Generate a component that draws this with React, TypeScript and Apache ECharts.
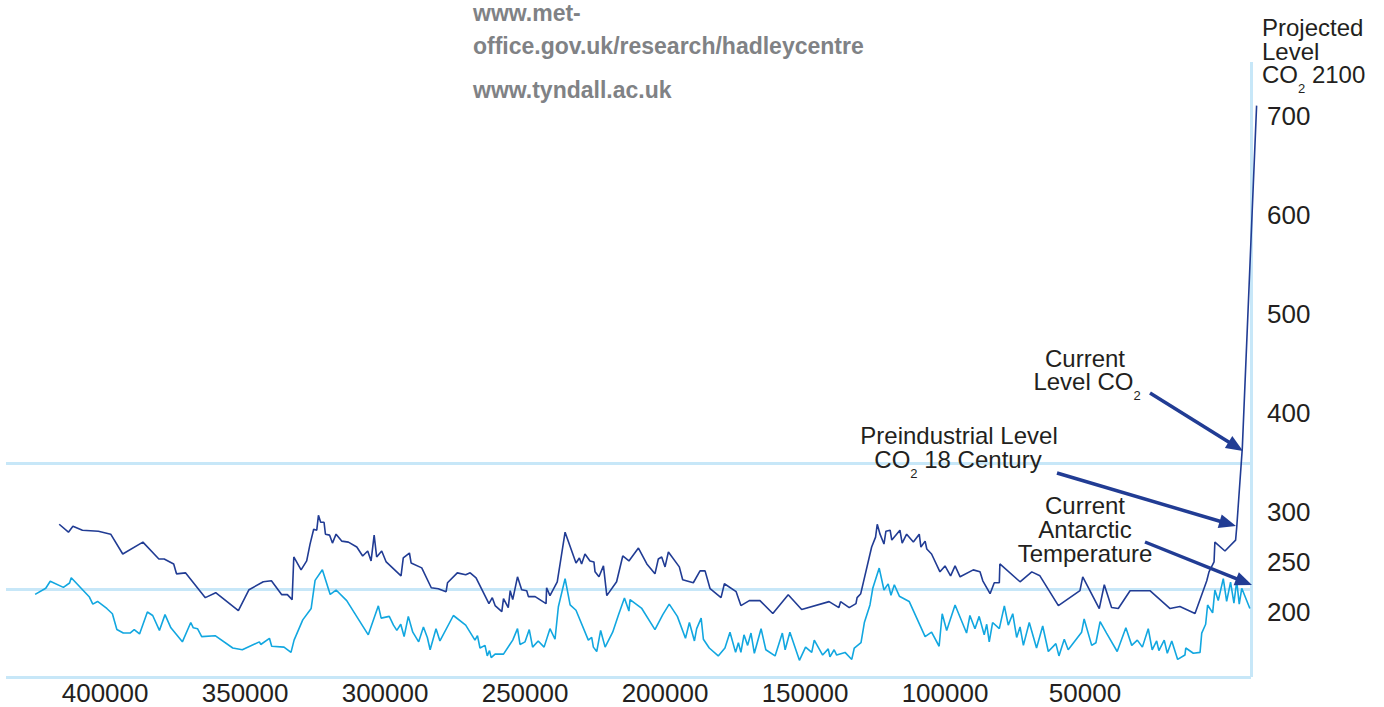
import React, { useEffect, useRef } from "react";
import * as echarts from "echarts";

// CO2 (ppm) by years before present (negative = future projection)
const co2Years = [416400,413100,411500,408100,402400,398000,393700,386500,380800,378900,375500,374500,371300,364200,360500,352400,348600,343500,340600,336900,334900,333200,332600,330000,328000,326800,325500,324400,323800,323000,321800,321300,319800,318800,317500,315500,313100,310100,308000,306200,305000,303900,303000,301200,299600,294300,293500,291300,290700,286900,283500,281000,278200,277700,274200,271200,269600,267500,262900,261700,260700,258300,257700,256000,255300,254400,252700,251200,249400,248800,246400,242500,242300,241100,238500,235700,231800,230600,229800,228600,226800,225400,225000,223600,222000,220800,217300,215100,212900,209500,206500,203600,202400,201200,200000,198800,194900,193700,189900,187500,185700,183900,180000,178800,174600,172900,169900,166100,161500,156000,151200,141400,137900,137300,134200,131800,131400,130100,126200,124800,124200,123200,121800,121100,119600,119000,116100,115300,113700,111300,109200,108600,107100,106500,104800,101800,100000,98000,96400,94600,89900,87500,86500,83900,82400,80600,80400,73200,69000,66100,59500,51800,50800,44900,43100,40500,38100,33900,26800,19600,16100,10700,6500,5700,3900,3600,0,-3800,-4200,-6200,-11300];
const co2Values = [288,280,286,282,281,278,258,270,253,253,248,238,239,214,219,201,222,230,231,217,217,212,255,242,251,268,283,282,297,290,290,278,277,269,278,271,270,265,256,261,251,277,255,261,250,236,254,259,249,244,224,223,220,229,239,237,239,234,208,214,206,200,213,204,221,212,235,222,221,215,215,208,224,216,230,280,249,254,248,258,251,250,240,235,246,216,230,256,251,264,248,238,253,255,245,260,245,232,229,241,241,223,214,228,220,206,211,211,198,217,202,210,204,210,204,208,214,218,265,275,288,278,268,281,282,272,282,269,278,270,278,265,271,263,258,240,246,236,246,235,242,240,231,218,229,229,248,230,240,236,206,221,235,203,227,204,203,221,221,203,205,198,231,240,250,270,261,272,285,365,710];

// Antarctic temperature anomaly (°C) by years before present
const tempYears = [425000,421200,419600,414900,412700,412100,405600,404400,402700,399400,397400,395800,393500,391100,389600,387700,384900,383000,380600,378600,376500,372400,369400,368500,367000,365500,360700,354400,351000,344900,344400,341300,340500,336100,333600,332500,329400,326400,325000,322400,319600,317500,313700,306000,302400,301400,298500,297000,295800,294400,293200,291700,290100,288000,286300,284900,283900,281800,280400,275600,271200,267900,267000,266100,264300,263500,262700,262100,260700,257700,254400,252700,251800,250000,248500,247300,245300,243200,241100,239300,238100,235700,233900,231800,227400,226200,225600,224400,223000,221400,218700,216700,214500,212900,212500,208300,203600,200800,198500,195600,192700,191300,189500,188700,187100,186300,184200,181000,178600,176800,174800,173800,172900,171800,170500,169300,168100,165700,164000,160700,158100,157100,155400,152000,149800,147600,146700,143700,141700,141100,139600,138700,135700,133300,132400,130000,128800,126800,125800,123500,121800,120300,119300,118100,116300,112800,107100,104800,102100,101000,99400,96400,92300,91100,89300,87800,86000,85100,84200,83000,80600,78800,77400,75800,74400,73200,72000,69900,67300,65100,63100,60400,59300,57400,56000,51200,50300,47600,46100,44600,42300,38500,35400,33300,31300,29500,27400,26000,24400,23600,21700,20600,19000,16900,14300,14000,11300,8900,8300,6900,6200,4400,3600,2400,600,-600,-2000,-3200,-4200,-5100,-6000,-8900];
const tempValues = [-0.6,0.1,0.9,0.2,0.7,1.3,-0.9,-1.7,-1.4,-2.2,-2.8,-4.6,-5.0,-5.0,-4.6,-5.1,-2.6,-3.0,-4.7,-2.9,-4.4,-6.0,-3.8,-4.4,-4.5,-5.4,-5.3,-6.7,-6.9,-6.0,-6.3,-5.6,-6.5,-6.6,-7.2,-5.8,-3.5,-2.2,1.0,2.2,-0.6,-0.1,-1.3,-5.2,-1.9,-3.3,-3.1,-4.1,-4.7,-4.0,-5.4,-3.1,-4.9,-6.0,-4.3,-5.5,-6.9,-4.5,-5.9,-3.0,-4.1,-5.8,-5.3,-6.7,-6.4,-7.6,-7.0,-7.8,-7.4,-7.4,-5.8,-4.5,-6.3,-6.0,-4.6,-6.6,-5.9,-6.6,-4.5,-5.7,-2.0,1.2,-1.8,-2.4,-5.8,-5.5,-6.6,-7.1,-4.7,-6.6,-4.9,-3.0,-1.0,-2.5,-1.2,-2.2,-4.6,-2.9,-1.7,-3.1,-5.6,-3.8,-5.9,-4.5,-3.3,-5.7,-6.7,-7.6,-6.7,-4.9,-7.2,-6.1,-7.2,-5.2,-6.4,-5.0,-7.3,-4.5,-6.9,-7.6,-5.0,-6.9,-4.9,-8.1,-6.6,-7.2,-5.8,-7.5,-6.8,-7.7,-6.9,-7.5,-7.2,-8.0,-6.7,-6.1,-3.8,-1.8,0.1,2.4,-0.1,0.6,-0.7,0.5,-0.8,-1.4,-5.4,-4.9,-6.5,-2.8,-4.7,-1.8,-5.0,-3.0,-4.5,-3.1,-5.2,-4.0,-6.0,-3.8,-4.5,-1.9,-4.1,-2.8,-5.5,-4.3,-6.4,-3.8,-6.7,-4.2,-7.1,-6.2,-7.6,-5.7,-6.9,-4.9,-3.4,-6.4,-6.1,-3.7,-5.0,-7.1,-4.4,-6.4,-5.8,-6.6,-4.5,-6.9,-5.9,-7.0,-5.8,-7.3,-5.9,-8.0,-7.5,-6.7,-7.3,-7.2,-5.0,-4.0,-1.8,-2.7,-0.1,-1.3,1.2,-1.4,0.8,-1.6,0.9,-1.7,0.1,-2.2];

const xTickLabels = [400000, 350000, 300000, 250000, 200000, 150000, 100000, 50000];
const yTickLabels = [200, 250, 300, 400, 500, 600, 700];
const currentCo2Line = 349;
const tempReferenceLine = 0;
const frameLeftYear = 435400;
const frameRightYear = -9300;
const frameBottomCo2 = 134;

const FONT = "'Liberation Sans', Arial, Helvetica, sans-serif";
const TEXT = "#231f20";
const DARK = "#213c94";
const LIGHT = "#12a7e0";
const FRAME = "#c7e7f8";

function arrow(x1: number, y1: number, x2: number, y2: number) {
  const dx = x2 - x1, dy = y2 - y1;
  const L = Math.hypot(dx, dy);
  const ux = dx / L, uy = dy / L;
  const hl = 17, hw = 7;
  const bx = x2 - ux * hl, by = y2 - uy * hl;
  return [
    { type: "line", z: 100, shape: { x1, y1, x2: bx + ux * 2, y2: by + uy * 2 }, style: { stroke: DARK, lineWidth: 3.5 } },
    { type: "polygon", z: 100, shape: { points: [[x2, y2], [bx - uy * hw, by + ux * hw], [bx + uy * hw, by - ux * hw]] }, style: { fill: DARK } },
  ];
}

function txt(x: number, y: number, text: string, align: string = "center") {
  return {
    type: "text",
    z: 100,
    x, y,
    style: { text, fill: TEXT, fontSize: 24, fontFamily: FONT, align, verticalAlign: "middle" },
  };
}

// text line with a subscript "2"; y is the centre of the main text
function subTxt(x: number, y: number, text: string, align: string = "center") {
  return {
    type: "text",
    z: 100,
    x, y: y - 13,
    style: {
      text, fill: TEXT, fontSize: 24, fontFamily: FONT,
      align, verticalAlign: "top",
      rich: {
        m: { fontSize: 24, fontFamily: FONT, lineHeight: 26, verticalAlign: "top", fill: TEXT },
        s: { fontSize: 13, fontFamily: FONT, lineHeight: 33, verticalAlign: "bottom", fill: TEXT },
      },
    },
  };
}

export default function App() {
  const ref = useRef<HTMLDivElement>(null);
  useEffect(() => {
    if (!ref.current) return;
    const chart = echarts.init(ref.current, undefined, { renderer: "svg" });
    const co2Data = co2Years.map((y, i) => [y, co2Values[i]]);
    const tempData = tempYears.map((y, i) => [y, tempValues[i]]);
    const urlStyle = { fill: "#808285", fontSize: 23, fontWeight: "bold", fontFamily: FONT, align: "left", verticalAlign: "middle" };
    const frameLine = { color: FRAME, width: 3, type: "solid" };
    chart.setOption({
      animation: false,
      backgroundColor: "#ffffff",
      grid: { left: 6, right: 126, top: 62, bottom: 30, containLabel: false, outerBoundsMode: "none" },
      xAxis: {
        type: "value",
        inverse: true,
        min: -11800,
        max: frameLeftYear,
        minInterval: 50000,
        maxInterval: 50000,
        axisLine: { show: false, onZero: false },
        axisTick: { show: false },
        splitLine: { show: false },
        axisLabel: {
          show: true,
          margin: 3,
          fontSize: 26,
          fontFamily: FONT,
          color: TEXT,
          showMinLabel: false,
          showMaxLabel: false,
          formatter: (v: number) => (xTickLabels.includes(v) ? String(v) : ""),
        },
      },
      yAxis: [
        {
          type: "value",
          position: "right",
          min: frameBottomCo2,
          max: 754,
          minInterval: 50,
          maxInterval: 50,
          axisLine: { show: false, onZero: false },
          axisTick: { show: false },
          splitLine: { show: false },
          axisLabel: {
            margin: 9,
            fontSize: 26,
            fontFamily: FONT,
            color: TEXT,
            showMinLabel: false,
            showMaxLabel: false,
            formatter: (v: number) => (yTickLabels.includes(v) ? String(v) : ""),
          },
        },
        {
          type: "value",
          show: false,
          position: "right",
          min: -10,
          max: 60,
          axisLine: { show: false, onZero: false },
          splitLine: { show: false },
        },
      ],
      series: [
        {
          type: "line",
          name: "Temperature",
          yAxisIndex: 1,
          data: tempData,
          showSymbol: false,
          symbol: "none",
          lineStyle: { color: LIGHT, width: 1.6 },
          z: 3,
          markLine: {
            silent: true,
            symbol: "none",
            label: { show: false },
            lineStyle: frameLine,
            data: [[{ coord: [frameLeftYear, tempReferenceLine] }, { coord: [frameRightYear, tempReferenceLine] }]],
            z: 1,
          },
        },
        {
          type: "line",
          name: "CO2",
          yAxisIndex: 0,
          data: co2Data,
          showSymbol: false,
          symbol: "none",
          clip: false,
          lineStyle: { color: DARK, width: 1.6 },
          z: 4,
          markLine: {
            silent: true,
            symbol: "none",
            label: { show: false },
            lineStyle: frameLine,
            data: [
              [{ coord: [frameLeftYear, currentCo2Line] }, { coord: [frameRightYear, currentCo2Line] }],
              [{ coord: [frameLeftYear, frameBottomCo2] }, { coord: [frameRightYear, frameBottomCo2] }],
              { xAxis: frameRightYear },
            ],
            z: 1,
          },
        },
      ],
      graphic: [
        { type: "text", z: 100, x: 473, y: 13, style: { text: "www.met-", ...urlStyle } },
        { type: "text", z: 100, x: 473, y: 46, style: { text: "office.gov.uk/research/hadleycentre", ...urlStyle } },
        { type: "text", z: 100, x: 473, y: 90, style: { text: "www.tyndall.ac.uk", ...urlStyle } },
        txt(1262, 27, "Projected", "left"),
        txt(1262, 51, "Level", "left"),
        subTxt(1262, 75, "{m|CO}{s|2}{m| 2100}", "left"),
        txt(1085, 358, "Current"),
        subTxt(1087, 382, "{m|Level CO}{s|2}"),
        txt(959, 435, "Preindustrial Level"),
        subTxt(958, 460, "{m|CO}{s|2}{m| 18 Century}"),
        txt(1085, 505, "Current"),
        txt(1085, 529, "Antarctic"),
        txt(1085, 553, "Temperature"),
        ...arrow(1150, 393, 1243, 451),
        ...arrow(1057, 473, 1236, 526),
        ...arrow(1145, 542, 1252, 585),
      ],
    });
    return () => chart.dispose();
  }, []);
  return <div ref={ref} style={{ position: "absolute", left: 0, top: 0, width: 1384, height: 707 }} />;
}
